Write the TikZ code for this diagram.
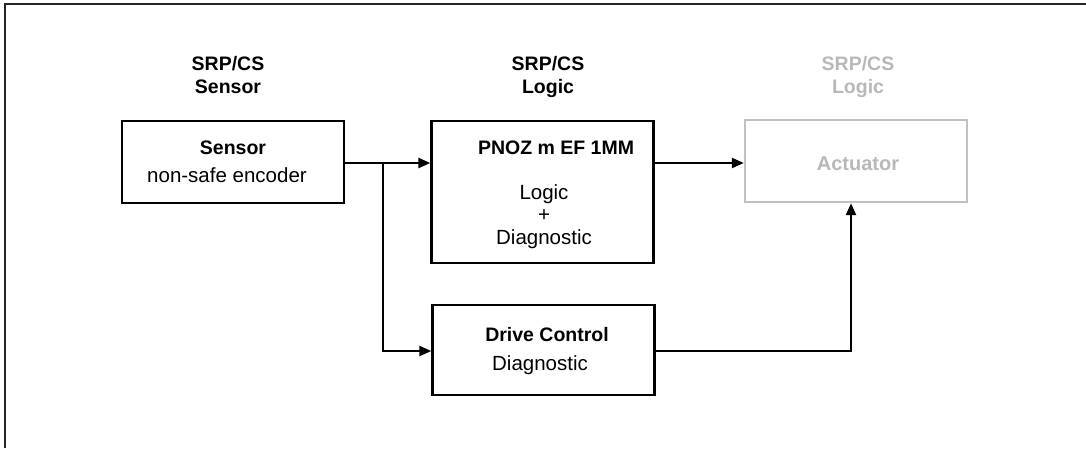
\documentclass[tikz,border=0pt]{standalone}
\usepackage{fontspec}
\setmainfont{Liberation Sans}
\usetikzlibrary{arrows.meta}
\definecolor{lightgr}{HTML}{B8B8B8}
\definecolor{boxgr}{HTML}{C0C0C0}
\begin{document}
\begin{tikzpicture}[x=1pt,y=-1pt,
  blk/.style={draw=black,line width=2.4pt,minimum width=222pt,inner sep=0pt},
  gblk/.style={draw=boxgr,line width=2.4pt,minimum width=222pt,inner sep=0pt},
  bt/.style={anchor=base,inner sep=0pt,font=\fontsize{19.5}{22}\selectfont\bfseries},
  rt/.style={anchor=base,inner sep=0pt,font=\fontsize{20.5}{24}\selectfont},
  arr/.style={line width=2.4pt,-{Triangle[length=12pt,width=10pt]}},
  ln/.style={line width=2.4pt}]
\useasboundingbox (0,0) rectangle (1086,448);
\draw[line width=1.6pt,color=black!85] (5,448) -- (5,4) -- (1086,4);
% titles
\node[bt] (t1a) at (228,70) {SRP/CS};
\node[bt] (t1b) at (228,93) {Sensor};
\node[bt] (t2a) at (548,70) {SRP/CS};
\node[bt] (t2b) at (548,93) {Logic};
\node[bt,text=lightgr] (t3a) at (858,70) {SRP/CS};
\node[bt,text=lightgr] (t3b) at (858,93) {Logic};
% boxes
\node[blk,minimum height=82pt] (sensor) at (233,162) {};
\node[blk,minimum height=142pt] (pnoz) at (542.5,192) {};
\node[gblk,minimum height=82pt] (act) at (856,161) {};
\node[blk,minimum height=90pt] (drive) at (543.5,350) {};
% texts
\node[bt] (s1) at (233,154) {Sensor};
\node[rt] (s2) at (227,182) {non-safe encoder};
\node[bt] (p1) at (556,154) {PNOZ m EF 1MM};
\node[rt] (p2) at (544,199) {Logic};
\node[rt] (p3) at (544,221) {+};
\node[rt] (p4) at (544,244) {Diagnostic};
\node[bt,text=lightgr,font=\fontsize{20}{24}\selectfont\bfseries] (a1) at (858,170) {Actuator};
\node[bt] (d1) at (547,341.5) {Drive Control};
\node[rt] (d2) at (540,370) {Diagnostic};
% connectors
\coordinate (br) at (383,163);
\draw[ln] (sensor.east |- br) -- (br);
\draw[arr] (br) -- (pnoz.west |- br);
\draw[arr] (br) |- ([yshift=-1pt]drive.west);
\draw[arr] (pnoz.east |- br) -- (act.west |- br);
\draw[arr] ([yshift=-1pt]drive.east) -| ([xshift=-5pt]act.south);
\end{tikzpicture}
\end{document}
